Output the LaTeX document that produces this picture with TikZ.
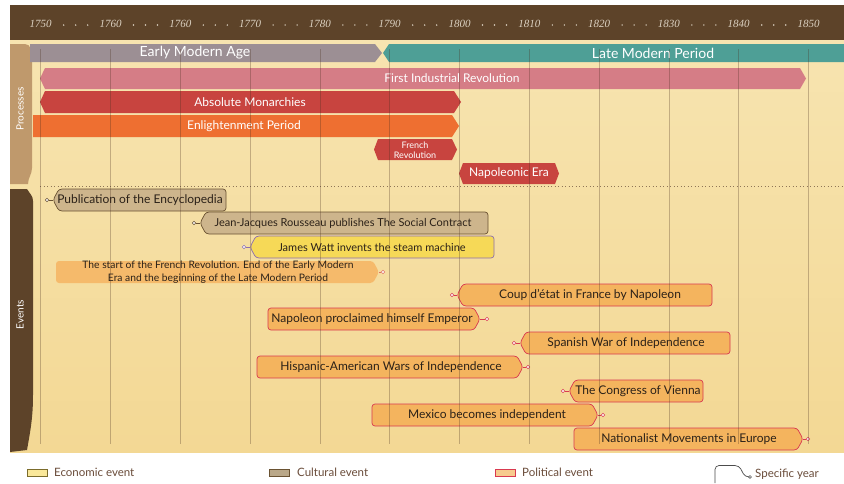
\documentclass[tikz,border=0pt]{standalone}
\usepackage{fontspec}
\setmainfont{Lato}
\newfontfamily\yrfont{Liberation Serif}
\definecolor{topbrown}{HTML}{5D4329}
\definecolor{parch}{HTML}{F6E0A6}
\definecolor{parchtop}{HTML}{F7E4B0}
\definecolor{parchbot}{HTML}{F3D894}
\definecolor{yeartxt}{HTML}{DCD2C2}
\definecolor{tanside}{HTML}{BF996C}
\definecolor{earlyc}{HTML}{9C8F94}
\definecolor{latec}{HTML}{4E9F96}
\definecolor{indc}{HTML}{D57D86}
\definecolor{absc}{HTML}{C8443F}
\definecolor{enlc}{HTML}{EE6F31}
\definecolor{cultfill}{HTML}{CDB58C}
\definecolor{cultdraw}{HTML}{6A5232}
\definecolor{ecofill}{HTML}{F6D957}
\definecolor{ecodraw}{HTML}{8D6FAE}
\definecolor{polfill}{HTML}{F4B45E}
\definecolor{poldraw}{HTML}{D93A50}
\definecolor{polxdraw}{HTML}{E07060}
\definecolor{evtxtc}{HTML}{2B2118}
\definecolor{legtxtc}{HTML}{6A4C3A}
\definecolor{gridc}{HTML}{4A3020}
% #1 name, #2 kind, #3 circle x, #4 tip x, #5 far x, #6 top y, #7 text x, #8 text
\newcommand\EvL[8]{%
  \pgfmathsetmacro\ym{#6+11}%
  \path[#2box] (#4,\ym) -- (#4+6,#6) -- (#5,#6) -- (#5,#6+22) -- (#4+6,#6+22) -- cycle;
  \node[evtxt] (#1) at (#7,\ym) {#8};
  \coordinate (#1-tip) at (#4,\ym);
  \node[yrdot=#2draw] (#1-yr) at (#3,\ym) {};
  \draw[#2draw, line width=0.7pt] (#1-yr) -- (#1-tip);
}
\newcommand\EvR[8]{%
  \pgfmathsetmacro\ym{#6+11}%
  \path[#2box] (#5,#6) -- (#4-6,#6) -- (#4,\ym) -- (#4-6,#6+22) -- (#5,#6+22) -- cycle;
  \node[evtxt, align=center] (#1) at (#7,\ym) {#8};
  \coordinate (#1-tip) at (#4,\ym);
  \node[yrdot=#2draw] (#1-yr) at (#3,\ym) {};
  \draw[#2draw, line width=0.7pt] (#1-yr) -- (#1-tip);
}
\newcommand\smalltxt{\fontsize{11}{12.5}\selectfont}
\begin{document}
\begin{tikzpicture}[x=1pt,y=-1pt,
  yearlbl/.style={font=\yrfont\itshape\fontsize{11}{12}\selectfont, text=yeartxt, inner sep=0},
  bartxt/.style={font=\fontsize{12}{13}\selectfont, text=white, inner sep=0},
  bigtxt/.style={font=\fontsize{14}{15}\selectfont, text=white, inner sep=0},
  sidetxt/.style={font=\fontsize{10}{12}\selectfont, text=white, inner sep=0, rotate=90},
  evtxt/.style={font=\fontsize{12}{13}\selectfont, text=evtxtc, inner sep=0},
  legtxt/.style={font=\fontsize{11.5}{13}\selectfont, text=legtxtc, inner sep=0, anchor=west},
  legsw/.style={minimum width=20pt, minimum height=7pt, inner sep=0, line width=0.8pt},
  yrdot/.style={circle, fill=white, draw=#1, line width=0.6pt, minimum size=3.6pt, inner sep=0},
  cultbox/.style={fill=cultfill, draw=cultdraw, line width=0.7pt, rounded corners=3pt},
  ecobox/.style={fill=ecofill, draw=ecodraw, line width=0.7pt, rounded corners=3pt},
  polbox/.style={fill=polfill, draw=poldraw, line width=0.7pt, rounded corners=3pt},
  polxbox/.style={fill=polfill!92!white, rounded corners=3pt},
  gridln/.style={draw=gridc, draw opacity=0.3, line width=0.7pt},
]
\useasboundingbox (0,0) rectangle (844,483);
\fill[white] (0,0) rectangle (844,483);
% header and parchment
\fill[topbrown] (10,5) rectangle (844,40);
\shade[top color=parchtop, bottom color=parchbot] (10,40) rectangle (844,452);
% side panels
\fill[tanside] (10,44) -- (25,44) to[out=0,in=90] (32,57) -- (32,168) to[out=-90,in=90] (28,184) -- (10,184) -- cycle;
\fill[topbrown] (10,189) -- (27,189) to[out=-60,in=90] (33,201) -- (33,395) to[out=-90,in=80] (27,450) -- (10,452) -- cycle;
\node[sidetxt] (sproc) at (20,109) {Processes};
\node[sidetxt] (sev) at (20,314.5) {Events};
% years
\foreach \i/\yy in {0/1750,1/1760,2/1760,3/1770,4/1780,5/1790,6/1800,7/1810,8/1820,9/1830,10/1840,11/1850}
  \node[yearlbl] (yr\i) at ({40.7+69.8*\i},24) {\yy};
\foreach \i in {0,...,10}
  \foreach \d in {23,35,47}
    \fill[yeartxt] ({40.7+69.8*\i+\d},25) circle[radius=0.8pt];
% process bars
\fill[earlyc] (30,44) -- (375,44) -- (382,53) -- (375,62) -- (30,62) -- cycle;
\fill[latec] (389,44) -- (844,44) -- (844,62) -- (389,62) -- (383,53) -- cycle;
\node[bigtxt] (early) at (195,53) {Early Modern Age};
\node[bigtxt] (late) at (653,53) {Late Modern Period};
\fill[indc] (45,68) -- (800,68) -- (806,78.5) -- (800,89) -- (45,89) -- (40,78.5) -- cycle;
\node[bartxt] (ind) at (452,78.5) {First Industrial Revolution};
\fill[absc] (45,91) -- (454,91) -- (461,102) -- (454,113) -- (45,113) -- (40,102) -- cycle;
\node[bartxt] (abs) at (250,102) {Absolute Monarchies};
\fill[enlc] (33,115) -- (452,115) -- (459,126) -- (452,137) -- (33,137) -- cycle;
\node[bartxt] (enl) at (244,126) {Enlightenment Period};
\fill[absc] (378,139) -- (452,139) -- (457,149.5) -- (452,160) -- (378,160) -- (374,149.5) -- cycle;
\node[bartxt, font=\fontsize{9}{10.5}\selectfont, align=center] (frev) at (415,150) {French\\Revolution};
\fill[absc] (463,163) -- (555,163) -- (559,173.5) -- (555,184) -- (463,184) -- (459,173.5) -- cycle;
\node[bartxt] (nap) at (509,173.5) {Napoleonic Era};
\draw[gridc!60!parch, line width=0.9pt, dash pattern=on 0.9pt off 2.6pt] (40,186) -- (844,186);
% events
\EvL{enc}{cult}{47}{53}{226}{189}{140}{Publication of the Encyclopedia}
\EvL{rou}{cult}{194}{200}{488}{212}{343}{\smalltxt Jean-Jacques Rousseau publishes The Social Contract}
\EvL{wat}{eco}{244}{250}{494}{236}{372}{\smalltxt James Watt invents the steam machine}
\EvR{frs}{polx}{383}{379}{56}{261}{218}{\fontsize{10.3}{11.5}\selectfont The start of the French Revolution. End of the Early Modern\\\fontsize{10.3}{11.5}\selectfont Era and the beginning of the Late Modern Period}
\EvL{cou}{pol}{452}{457}{712}{284}{590}{Coup d’état in France by Napoleon}
\EvR{emp}{pol}{487}{480}{268}{308}{372}{Napoleon proclaimed himself Emperor}
\EvL{spa}{pol}{514}{520}{730}{332}{626}{Spanish War of Independence}
\EvR{his}{pol}{528}{523}{257}{356}{391}{Hispanic-American Wars of Independence}
\EvL{vie}{pol}{563}{569}{703}{380}{638}{The Congress of Vienna}
\EvR{mex}{pol}{603}{598}{372}{404}{487}{Mexico becomes independent}
\EvR{nat}{pol}{808}{803}{574}{428}{689}{Nationalist Movements in Europe}
% grid lines
\foreach \i in {0,...,11}
  \draw[gridln] ({40.7+69.8*\i},49) -- ({40.7+69.8*\i},444);
% legend
\node[legsw, fill=ecofill!60!white, draw=ecofill!50!black] (lg-eco) at (37.5,472.5) {};
\node[legtxt] (lg-eco-t) at (54,472) {Economic event};
\node[legsw, fill=cultfill!75!gray, draw=cultdraw] (lg-cul) at (279,472.5) {};
\node[legtxt] (lg-cul-t) at (297,472) {Cultural event};
\node[legsw, fill=polfill!70!white, draw=poldraw] (lg-pol) at (505.5,472.5) {};
\node[legtxt] (lg-pol-t) at (522,472) {Political event};
\coordinate (hk-a) at (715,483);
\node[yrdot=gray!80!black, minimum size=3pt] (hk-yr) at (750,477) {};
\draw[gray!60!black, line width=0.7pt, rounded corners=4pt] (hk-a) -- (715,465.5) -- (739,465.5) -- (745,477) -- (hk-yr);
\node[legtxt] (hk-t) at (755,474.5) {Specific year};
\end{tikzpicture}
\end{document}
